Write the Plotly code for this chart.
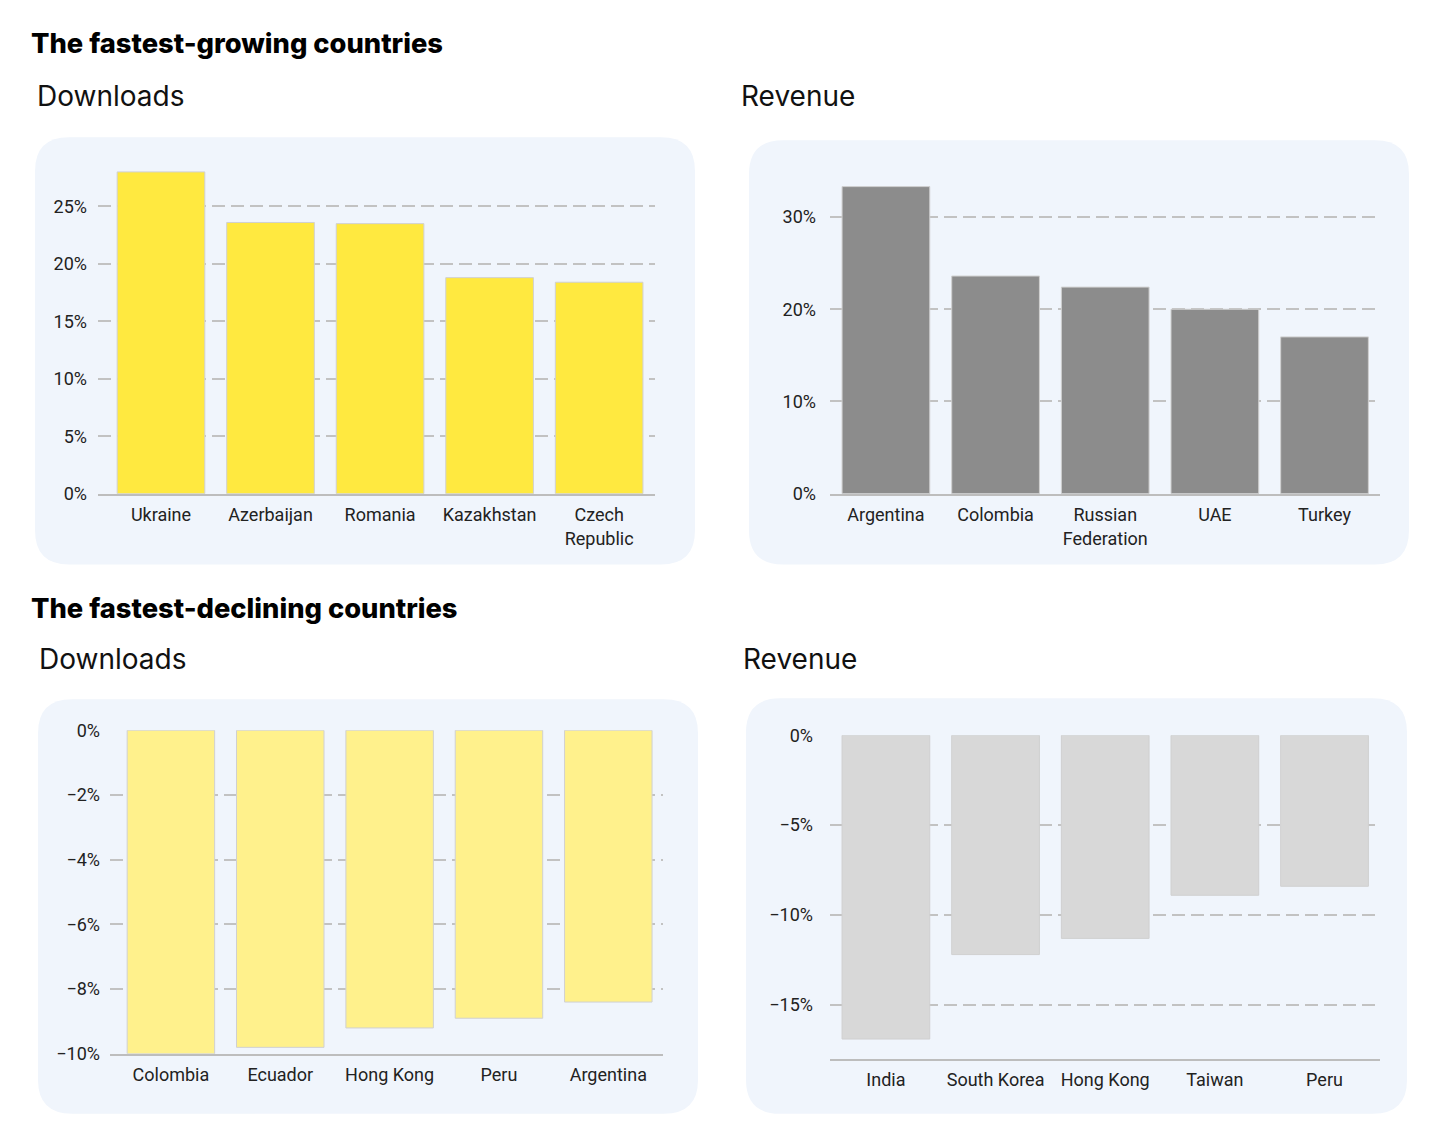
import plotly.graph_objects as go

W, H = 1430, 1136

# ---------------- data ----------------
grow_dl_countries = ["Ukraine", "Azerbaijan", "Romania", "Kazakhstan", "Czech<br>Republic"]
grow_dl_values = [28.0, 23.6, 23.5, 18.8, 18.4]

grow_rev_countries = ["Argentina", "Colombia", "Russian<br>Federation", "UAE", "Turkey"]
grow_rev_values = [33.3, 23.6, 22.4, 20.0, 17.0]

dec_dl_countries = ["Colombia", "Ecuador", "Hong Kong", "Peru", "Argentina"]
dec_dl_values = [-10.0, -9.8, -9.2, -8.9, -8.4]

dec_rev_countries = ["India", "South Korea", "Hong Kong", "Taiwan", "Peru"]
dec_rev_values = [-16.9, -12.2, -11.3, -8.9, -8.4]

section_titles = ["The fastest-growing countries", "The fastest-declining countries"]
panel_titles = ["Downloads", "Revenue", "Downloads", "Revenue"]


def Y(r):
    # vertical pixel position correction
    return (r - 10.6) / 0.983


def px(x):
    return x / W


def py(y):
    return 1 - Y(y) / H


def rounded_rect(x0, y0, x1, y1, r):
    pts = [
        f"M {px(x0 + r)},{py(y0)}",
        f"L {px(x1 - r)},{py(y0)}",
        f"Q {px(x1)},{py(y0)} {px(x1)},{py(y0 + r)}",
        f"L {px(x1)},{py(y1 - r)}",
        f"Q {px(x1)},{py(y1)} {px(x1 - r)},{py(y1)}",
        f"L {px(x0 + r)},{py(y1)}",
        f"Q {px(x0)},{py(y1)} {px(x0)},{py(y1 - r)}",
        f"L {px(x0)},{py(y0 + r)}",
        f"Q {px(x0)},{py(y0)} {px(x0 + r)},{py(y0)}",
        "Z",
    ]
    return " ".join(pts)


fig = go.Figure()

panels = [
    # (cats, vals, color, xdom px, ydom px, xrange, yrange, dtick, standoff)
    (grow_dl_countries, grow_dl_values, "#FFE940", (98, 655), (166, 494), [-0.575, 4.51], [0, 28.5], 5, 10),
    (grow_rev_countries, grow_rev_values, "#8C8C8C", (830, 1380), (180, 494), [-0.51, 4.506], [0, 34], 10, 13),
    (dec_dl_countries, dec_dl_values, "#FFF18C", (110, 663), (731, 1055), [-0.557, 4.5], [-10, 0], 2, 9),
    (dec_rev_countries, dec_rev_values, "#D8D8D8", (830, 1380), (736, 1060), [-0.51, 4.506], [-18, 0], 5, 16),
]

tick_font = dict(family="Roboto", size=18, color="#222222")

for i, (cats, vals, color, xd, yd, xr, yr, dt, so) in enumerate(panels, start=1):
    sfx = "" if i == 1 else str(i)
    fig.add_trace(go.Bar(
        x=list(range(len(cats))), y=vals,
        width=0.8,
        marker=dict(color=color, line=dict(color="#D0D0D0", width=1)),
        xaxis="x" + sfx, yaxis="y" + sfx,
        showlegend=False, hoverinfo="skip",
    ))
    fig.layout["xaxis" + sfx] = dict(
        domain=[px(xd[0]), px(xd[1])],
        anchor="y" + sfx,
        range=xr,
        tickmode="array",
        tickvals=list(range(len(cats))),
        ticktext=cats,
        showgrid=False,
        zeroline=False,
        showline=True,
        linecolor="#BDBDBD",
        linewidth=2,
        ticks="",
        tickfont=tick_font,
        ticklabelstandoff=4,
        fixedrange=True,
    )
    fig.layout["yaxis" + sfx] = dict(
        domain=[py(yd[1]), py(yd[0])],
        anchor="x" + sfx,
        range=yr,
        dtick=dt,
        tick0=0,
        ticksuffix="%",
        showgrid=True,
        gridcolor="#C2C2C2",
        gridwidth=2,
        griddash="13px,6px",
        zeroline=False,
        showline=False,
        ticks="",
        tickfont=tick_font,
        ticklabelstandoff=so,
        fixedrange=True,
    )

# panel backgrounds
boxes = [(35, 137, 695, 565), (749, 140, 1409, 565), (38, 700, 698, 1115), (746, 699, 1407, 1115)]
for b in boxes:
    fig.add_shape(type="path", path=rounded_rect(*b, 34), xref="paper", yref="paper",
                  fillcolor="#F0F5FC", line=dict(width=0), layer="below")

# titles
annos = []
for txt, (x, y) in zip(section_titles, [(29, 43), (29, 609)]):
    annos.append(dict(text=txt, x=px(x), y=py(y), xref="paper", yref="paper",
                      xanchor="left", yanchor="middle", showarrow=False,
                      font=dict(family="Inter", size=27.3, color="#000000", weight=800)))
for txt, (x, y) in zip(panel_titles, [(35, 96), (739, 96), (37, 660), (741, 660)]):
    annos.append(dict(text=txt, x=px(x), y=py(y), xref="paper", yref="paper",
                      xanchor="left", yanchor="middle", showarrow=False,
                      font=dict(family="Inter", size=28, color="#111111")))

fig.update_layout(
    width=W, height=H, autosize=False,
    margin=dict(l=0, r=0, t=0, b=0),
    paper_bgcolor="white",
    plot_bgcolor="rgba(0,0,0,0)",
    annotations=annos,
    bargap=0.2,
)

fig.write_html(
    "out.html",
    config={"displayModeBar": False},
    post_script="document.body.style.margin='0';document.body.style.overflow='hidden';",
)
